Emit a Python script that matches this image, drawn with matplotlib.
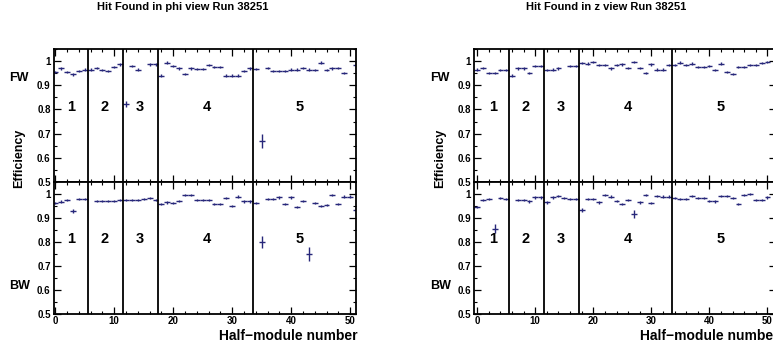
import numpy as np
import matplotlib
matplotlib.use("Agg")
import matplotlib.pyplot as plt
from matplotlib.ticker import MultipleLocator

W, H = 773, 347
NAVY = "#27277a"

bins = np.arange(52)
nan = np.nan

# efficiency per half-module (nan = empty bin)
phi_fw = [0.955, 0.970, 0.955, 0.945, 0.960, 0.965, 0.965, 0.972, 0.962, 0.958,
          0.976, 0.986, 0.823, 0.980, 0.965, nan, 0.986, 0.986, 0.940, 0.994,
          0.980, 0.970, 0.946, 0.970, 0.967, 0.967, 0.983, 0.976, 0.976, 0.940,
          0.940, 0.940, 0.960, 0.970, 0.967, 0.670, 0.972, 0.960, 0.960, 0.958,
          0.965, 0.965, 0.972, 0.965, 0.962, 0.994, 0.962, 0.970, 0.972, 0.950,
          nan, 0.983]
phi_bw = [0.962, 0.968, 0.975, 0.928, 0.979, 0.979, nan, 0.972, 0.972, 0.972,
          0.972, 0.976, 0.976, 0.976, 0.976, 0.978, 0.983, 0.975, 0.958, 0.965,
          0.962, 0.972, 0.997, 0.997, 0.976, 0.976, 0.975, 0.958, 0.958, 0.983,
          0.951, 0.989, 0.969, 0.969, 0.962, 0.800, 0.979, 0.979, 0.986, 0.958,
          0.986, 0.947, 0.972, 0.750, 0.962, 0.951, 0.955, 0.997, 0.958, 0.989,
          0.989, 0.935]
z_fw = [0.965, 0.972, 0.951, 0.951, 0.962, 0.962, 0.940, 0.970, 0.970, 0.951,
        0.980, 0.980, 0.962, 0.965, 0.970, nan, 0.980, 0.980, 0.993, 0.990,
        0.997, 0.983, 0.983, 0.970, 0.983, 0.986, 0.972, 0.997, 0.972, 0.951,
        0.986, 0.965, 0.965, 0.983, 0.983, 0.994, 0.983, 0.990, 0.976, 0.976,
        0.980, 0.962, 0.990, 0.955, 0.946, 0.976, 0.976, 0.983, 0.983, 0.993,
        0.997, nan]
z_bw = [0.947, 0.975, 0.978, 0.855, 0.983, 0.979, nan, 0.975, 0.975, 0.969,
        0.986, 0.986, 0.965, 0.986, 0.992, 0.983, 0.980, 0.980, 0.933, 0.979,
        0.979, 0.965, 0.996, 0.989, 0.972, 0.958, 0.975, 0.917, 0.965, 0.997,
        0.962, 0.992, 0.989, 0.989, 0.983, 0.979, 0.979, 0.992, 0.983, 0.983,
        0.972, 0.969, 0.992, 0.992, 0.983, 0.958, 0.997, 1.000, 0.975, 0.975,
        0.986, nan]

# larger error bars (bin index -> error)
phi_fw_err = {12: 0.012, 35: 0.03, 51: 0.012}
phi_bw_err = {3: 0.008, 35: 0.025, 43: 0.03, 51: 0.015}
z_fw_err = {}
z_bw_err = {3: 0.018, 18: 0.01, 27: 0.015}
default_err = 0.005

boundaries = [5.5, 11.5, 17.5, 33.5]
layer_names = ["1", "2", "3", "4", "5"]
phi_label_x = [2.7, 8.4, 14.4, 25.7, 41.4]
z_label_x = [2.8, 8.3, 14.4, 26.0, 41.9]

y_ticks = [0.5, 0.6, 0.7, 0.8, 0.9, 1.0]
y_tick_labels = ["0.5", "0.6", "0.7", "0.8", "0.9", "1"]

titles = ["Hit Found in phi view Run 38251", "Hit Found in z view Run 38251"]

plt.rcParams["font.family"] = ["Liberation Sans", "DejaVu Sans"]
fig = plt.figure(figsize=(W / 100, H / 100), dpi=100)


def rect(l, r, t, b):
    return [l / W, 1 - b / H, (r - l) / W, (b - t) / H]


def draw(ax, vals, errs, label_x, xlim, bottom):
    v = np.array(vals, dtype=float)
    e = np.full(len(v), default_err)
    for k, val in errs.items():
        e[k] = val
    ok = ~np.isnan(v)
    ax.errorbar(bins[ok], v[ok], yerr=e[ok], xerr=0.5, fmt="none",
                ecolor=NAVY, elinewidth=1.0, capsize=0)
    for b in boundaries:
        ax.axvline(b, color="black", lw=1.3)
    for x, name in zip(label_x, layer_names):
        ax.text(x, 0.812, name, ha="center", va="center", fontsize=10.5,
                fontweight="bold")
    ax.set_xlim(*xlim)
    ax.set_ylim(0.5, 1.05)
    ax.xaxis.set_major_locator(MultipleLocator(10))
    ax.xaxis.set_minor_locator(MultipleLocator(2))
    ax.yaxis.set_minor_locator(MultipleLocator(0.05))
    ax.set_yticks(y_ticks)
    ax.set_yticklabels(y_tick_labels)
    ax.tick_params(which="both", direction="in", top=True, right=True,
                   labelsize=7, pad=2)
    ax.tick_params(axis="x", pad=1.2)
    ax.tick_params(which="major", length=5, width=0.9)
    ax.tick_params(which="minor", length=2.5, width=0.8)
    for lab in ax.get_yticklabels() + ax.get_xticklabels():
        lab.set_fontweight("bold")
    if not bottom:
        ax.tick_params(labelbottom=False)
    for s in ax.spines.values():
        s.set_linewidth(1.3)


panels = [
    (53.5, 356.0, (-0.3, 51.0), phi_fw, phi_bw, phi_fw_err, phi_bw_err, phi_label_x, 183),
    (473.7, 776.2, (-0.6, 51.5), z_fw, z_bw, z_fw_err, z_bw_err, z_label_x, 606),
]

for i, (l, r, xl, fw, bw, fwe, bwe, lx, tx) in enumerate(panels):
    ax1 = fig.add_axes(rect(l, r, 49, 182))
    ax2 = fig.add_axes(rect(l, r, 182, 314))
    draw(ax1, fw, fwe, lx, xl, False)
    draw(ax2, bw, bwe, lx, xl, True)

    fig.text(tx / W, 1 - 7 / H, titles[i], ha="center", va="center",
             fontsize=8, fontweight="bold")
    fig.text((l - 44) / W, 1 - 78 / H, "FW", ha="left", va="center",
             fontsize=9, fontweight="bold")
    fig.text((l - 44) / W, 1 - 286 / H, "BW", ha="left", va="center",
             fontsize=9, fontweight="bold")
    fig.text((l - 34) / W, 1 - 158 / H, "Efficiency", rotation=90,
             ha="center", va="center", fontsize=9, fontweight="bold")
    fig.text((r + 2) / W, 1 - 336 / H, "Half\u2212module number", ha="right",
             va="center", fontsize=10, fontweight="bold")

fig.savefig("out.png", dpi=100)
